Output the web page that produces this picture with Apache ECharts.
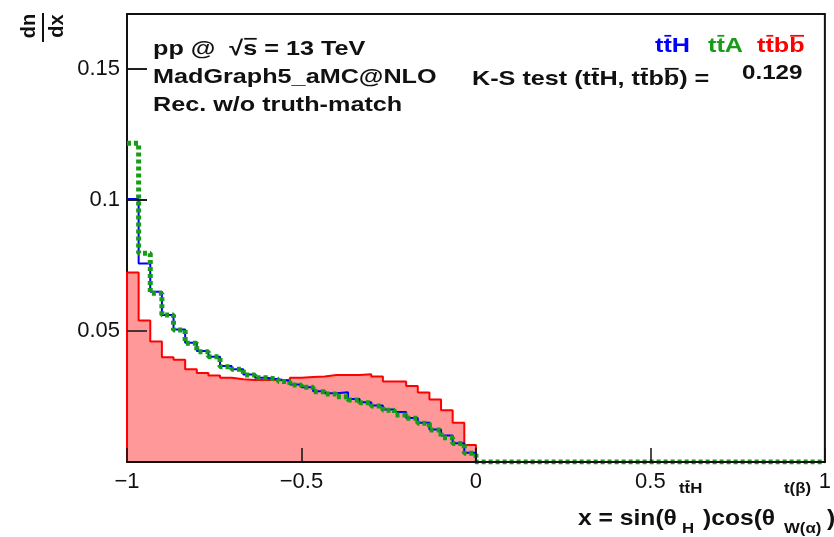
<!DOCTYPE html>
<html>
<head>
<meta charset="utf-8">
<script src="https://cdn.jsdelivr.net/npm/echarts@6/dist/echarts.min.js"></script>
<style>
  html, body { margin: 0; padding: 0; background: #fff; }
  #chart { width: 834px; height: 537px; }
</style>
</head>
<body>
<div id="chart"></div>
<script>
// 60 bins over [-1, 1]
const xMin = -1
const xMax = 1
const nBins = 60

// tt̄H (blue)
const ttH = [
  0.1004, 0.0758, 0.0650, 0.0561, 0.0506, 0.0455, 0.0424, 0.0402, 0.0366, 0.0354,
  0.0334, 0.0322, 0.0316, 0.0309, 0.0296, 0.0285, 0.0270, 0.0262, 0.0266, 0.0240,
  0.0228, 0.0216, 0.0200, 0.0191, 0.0168, 0.0150, 0.0124, 0.0101, 0.0072, 0.0035,
  0, 0, 0, 0, 0, 0, 0, 0, 0, 0,
  0, 0, 0, 0, 0, 0, 0, 0, 0, 0,
  0, 0, 0, 0, 0, 0, 0, 0, 0, 0
]
// tt̄A (green, dotted)
const ttA = [
  0.1217, 0.0797, 0.0644, 0.0561, 0.0504, 0.0453, 0.0421, 0.0402, 0.0364, 0.0354,
  0.0332, 0.0322, 0.0316, 0.0307, 0.0294, 0.0285, 0.0268, 0.0260, 0.0249, 0.0237,
  0.0226, 0.0214, 0.0198, 0.0179, 0.0167, 0.0148, 0.0122, 0.0093, 0.0071, 0.0033,
  0, 0, 0, 0, 0, 0, 0, 0, 0, 0,
  0, 0, 0, 0, 0, 0, 0, 0, 0, 0,
  0, 0, 0, 0, 0, 0, 0, 0, 0, 0
]
// tt̄bb̄ (red, filled)
const ttbb = [
  0.0723, 0.0540, 0.0460, 0.0400, 0.0390, 0.0354, 0.0340, 0.0330, 0.0322, 0.0316,
  0.0313, 0.0313, 0.0313, 0.0313, 0.0322, 0.0324, 0.0326, 0.0332, 0.0332, 0.0332,
  0.0335, 0.0326, 0.0307, 0.0307, 0.0290, 0.0265, 0.0239, 0.0198, 0.0150, 0.0065,
  0, 0, 0, 0, 0, 0, 0, 0, 0, 0,
  0, 0, 0, 0, 0, 0, 0, 0, 0, 0,
  0, 0, 0, 0, 0, 0, 0, 0, 0, 0
]

const xTickValues = [-1, -0.5, 0, 0.5, 1]
const xTickLabels = ['\u22121', '\u22120.5', '0', '0.5', '1']
const yTickValues = [0.05, 0.1, 0.15]
const yTickLabels = ['0.05', '0.1', '0.15']

const binWidth = (xMax - xMin) / nBins

// histogram outline as step points: lower edge of every bin, plus the last upper edge
function histPoints (values, fromZero) {
  const pts = fromZero ? [[xMin, 0]] : []
  values.forEach((v, i) => pts.push([xMin + i * binWidth, v]))
  pts.push([xMax, values[values.length - 1]])
  return pts
}

function labelFor (values, labels) {
  return v => {
    const i = values.findIndex(t => Math.abs(t - v) < 1e-9)
    return i >= 0 ? labels[i] : ''
  }
}

const FAMILY = 'Liberation Sans, Arial, Helvetica, sans-serif'
const INK = '#111'
const GREEN = '#169c16'
const Y_TICK_LEN = 20

// text measuring, used to put bars over t̄ / b̄
const mctx = document.createElement('canvas').getContext('2d')
function fontOf (size) { return 'bold ' + size + 'px ' + FAMILY }
function measure (str, size) {
  mctx.font = fontOf(size)
  return mctx.measureText(str).width
}
function capAbove (size) {
  mctx.font = fontOf(size)
  mctx.textBaseline = 'middle'
  return mctx.measureText('H').actualBoundingBoxAscent
}

// text (left aligned, vertically centred on y) with overlines over chosen characters
function label (text, x, y, o) {
  o = Object.assign({ size: 21, sx: 1.2, color: INK, bars: [] }, o || {})
  const els = [{
    type: 'text',
    x: x,
    y: y,
    scaleX: o.sx,
    originX: 0,
    style: { text: text, fill: o.color, font: fontOf(o.size), align: 'left', verticalAlign: 'middle' }
  }]
  const by = y - capAbove(o.size) - 2
  o.bars.forEach(i => {
    const x1 = x + measure(text.slice(0, i), o.size) * o.sx + 1
    const x2 = x + measure(text.slice(0, i + 1), o.size) * o.sx - 0.5
    els.push({
      type: 'line',
      shape: { x1: x1, y1: by, x2: x2, y2: by },
      style: { stroke: o.color, lineWidth: Math.max(1.5, o.size / 12) }
    })
  })
  return els
}

// x title: x = sin(θ_H^{tt̄H})cos(θ_{W(α)}^{t(β)}), pieces placed left to right
function xTitle (y) {
  const big = 22
  const small = 15
  const sx = 1.12
  let els = []
  els = els.concat(label('x = sin(\u03B8', 578, y, { size: big, sx: sx }))
  els = els.concat(label('ttH', 679, y - 30, { size: small, sx: sx, bars: [1] }))
  els = els.concat(label('H', 682, y + 10, { size: small, sx: sx }))
  els = els.concat(label(')cos(\u03B8', 703, y, { size: big, sx: sx }))
  els = els.concat(label('t(\u03B2)', 784, y - 30, { size: small, sx: sx }))
  els = els.concat(label('W(\u03B1)', 784, y + 10, { size: small, sx: sx }))
  els = els.concat(label(')', 827, y, { size: big, sx: sx }))
  return els
}

const chart = echarts.init(document.getElementById('chart'))

const graphics = [].concat(
  // y title dn/dx, turned on its side
  [
    { type: 'text', x: 29, y: 26, rotation: Math.PI / 2,
      style: { text: 'dn', fill: INK, font: fontOf(20), align: 'center', verticalAlign: 'middle' } },
    { type: 'text', x: 57, y: 26, rotation: Math.PI / 2,
      style: { text: 'dx', fill: INK, font: fontOf(20), align: 'center', verticalAlign: 'middle' } },
    { type: 'line', shape: { x1: 43, y1: 13, x2: 43, y2: 42 }, style: { stroke: INK, lineWidth: 2 } }
  ],
  // info text
  label('pp @  \u221As = 13 TeV', 153, 49, { bars: [7] }),
  label('MadGraph5_aMC@NLO', 153, 77),
  label('Rec. w/o truth-match', 153, 105),
  label('K-S test (ttH, ttbb) =', 472, 79, { bars: [11, 16, 18] }),
  label('0.129', 742, 73, { sx: 1.15 }),
  // legend
  label('ttH', 655, 46, { color: '#0000ff', bars: [1] }),
  label('ttA', 708, 46, { color: GREEN, bars: [1] }),
  label('ttbb', 757, 46, { color: '#ff0000', bars: [1, 3] }),
  xTitle(519)
)

chart.setOption({
  animation: false,
  backgroundColor: '#fff',
  grid: {
    left: 127,
    right: 2,
    top: 14,
    bottom: 75,
    show: true,
    borderColor: INK,
    borderWidth: 2
  },
  xAxis: [{
    type: 'value',
    min: xMin,
    max: xMax,
    interval: 0.5,
    z: 10,
    axisLine: { show: true, onZero: false, lineStyle: { color: INK, width: 2 } },
    splitLine: { show: false },
    axisTick: { show: true, inside: true, length: 14, lineStyle: { color: INK, width: 1.5 } },
    axisLabel: {
      show: true,
      margin: 9,
      showMaxLabel: true,
      color: INK,
      fontFamily: FAMILY,
      fontSize: 22,
      formatter: labelFor(xTickValues, xTickLabels)
    }
  }],
  yAxis: [{
    type: 'value',
    min: 0,
    max: 0.171,
    interval: 0.05,
    axisLine: { show: true, onZero: false, lineStyle: { color: INK, width: 2 } },
    splitLine: { show: false },
    axisTick: { show: true, inside: true, length: Y_TICK_LEN, lineStyle: { color: INK, width: 1.5 } },
    axisLabel: {
      show: true,
      margin: 7,
      color: INK,
      fontFamily: FAMILY,
      fontSize: 22,
      formatter: labelFor(yTickValues, yTickLabels)
    }
  }],
  series: [
    {
      name: 'ttbb',
      type: 'line',
      step: 'end',
      symbol: 'none',
      z: 2,
      data: histPoints(ttbb, true),
      lineStyle: { color: '#ff0000', width: 2 },
      areaStyle: { color: '#ff9999', opacity: 1 }
    },
    {
      name: 'ttH',
      type: 'line',
      step: 'end',
      symbol: 'none',
      z: 3,
      data: histPoints(ttH, false),
      lineStyle: { color: '#0000ff', width: 2 }
    },
    {
      name: 'ttA',
      type: 'line',
      step: 'end',
      symbol: 'none',
      z: 4,
      data: histPoints(ttA, false),
      lineStyle: { color: GREEN, width: 5, type: [4, 3], cap: 'butt' }
    },
    {
      // y-axis tick marks, pointing into the frame
      name: 'yTicks',
      type: 'custom',
      silent: true,
      z: 10,
      data: yTickValues.map(v => [xMin, v]),
      encode: { x: 0, y: 1 },
      renderItem: (params, api) => {
        const p = api.coord([api.value(0), api.value(1)])
        return {
          type: 'line',
          shape: { x1: p[0], y1: p[1], x2: p[0] + Y_TICK_LEN, y2: p[1] },
          style: { stroke: INK, lineWidth: 1.5 }
        }
      }
    }
  ],
  graphic: graphics
})
</script>
</body>
</html>
